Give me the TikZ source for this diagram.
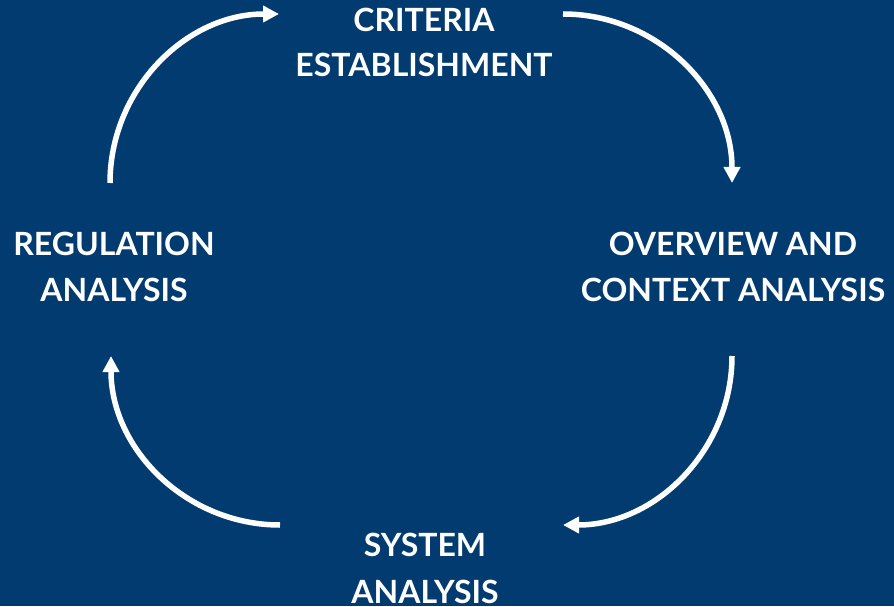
\documentclass[tikz,border=0pt]{standalone}
\usepackage{fontspec}
\setmainfont{Lato}[UprightFont=* Bold]
\usetikzlibrary{arrows.meta}
\definecolor{bgblue}{HTML}{013B70}
\tikzset{
  label/.style={text=white, align=center, inner sep=0pt, font=\fontsize{32}{45.5}\selectfont},
  flow/.style={draw=white, line width=5.5pt, -{Triangle[length=16pt,width=16pt]}}
}
\begin{document}
\begin{tikzpicture}[x=1pt,y=1pt]
\fill[bgblue] (0,0) rectangle (894,606);
\useasboundingbox (0,0) rectangle (894,606);
\node[label] (crit) at (424,563.5) {CRITERIA\\ESTABLISHMENT};
\node[label] (over) at (733,339) {OVERVIEW AND\\CONTEXT ANALYSIS};
\node[label] (sys) at (425,38) {SYSTEM\\[1.5pt]ANALYSIS};
\node[label] (reg) at (114,339) {REGULATION\\ANALYSIS};
\coordinate (a1) at (110,423);
\coordinate (a2) at (563,592);
\coordinate (a3) at (732,250);
\coordinate (a4) at (280,81);
\draw[flow] (a1) arc[start angle=180, end angle=90, radius=169];
\draw[flow] (a2) arc[start angle=90, end angle=0, radius=169];
\draw[flow] (a3) arc[start angle=0, end angle=-90, radius=169];
\draw[flow] (a4) arc[start angle=-90, end angle=-180, radius=169];
\end{tikzpicture}
\end{document}
